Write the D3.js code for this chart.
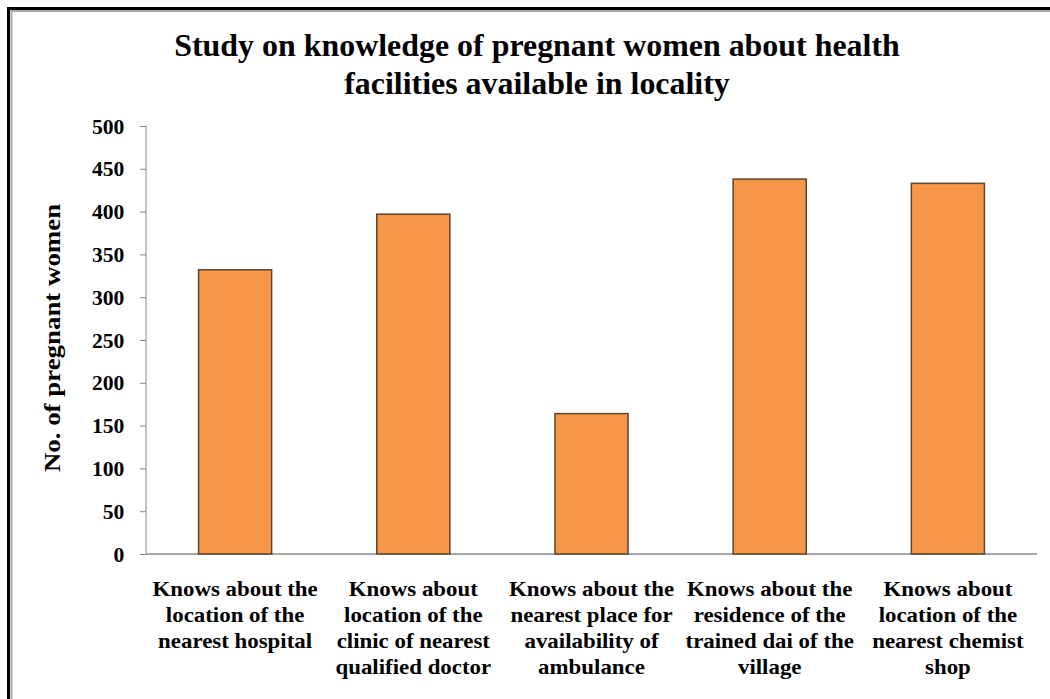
<!DOCTYPE html>
<html>
<head>
<meta charset="utf-8">
<script src="https://cdn.jsdelivr.net/npm/d3@7"></script>
<style>
  body { margin: 0; background: #fff; }
  svg text { font-family: "Liberation Serif", "Times New Roman", serif !important; font-weight: bold; fill: #000; }
</style>
</head>
<body>
<div id="chart"></div>
<script>
// chart data
var categories = ["hospital", "doctor", "ambulance", "dai", "chemist"];
var counts = [332, 397, 164, 438, 433];
var catLabels = [
    ["Knows about the", "location of the", "nearest hospital"],
    ["Knows about", "location of the", "clinic of nearest", "qualified doctor"],
    ["Knows about the", "nearest place for", "availability of", "ambulance"],
    ["Knows about the", "residence of the", "trained dai of the", "village"],
    ["Knows about", "location of the", "nearest chemist", "shop"]
];
var yTicks = [0, 50, 100, 150, 200, 250, 300, 350, 400, 450, 500];
var titleLines = ["Study on knowledge of pregnant women about health", "facilities available in locality"];
var yTitle = "No. of pregnant women";

var W = 1050, H = 699;
var margin = {top: 126, right: 13, bottom: 145, left: 146},
    width = W - margin.left - margin.right,
    height = H - margin.top - margin.bottom;

var svg = d3.select("#chart").append("svg")
    .attr("width", W)
    .attr("height", H);

// frame round the picture
svg.append("rect").attr("x", 8.5).attr("y", 8.5).attr("width", W + 10).attr("height", H + 10)
    .attr("fill", "none").attr("stroke", "#000").attr("stroke-width", 3);
svg.append("rect").attr("x", 11.5).attr("y", 11).attr("width", W + 10).attr("height", H + 10)
    .attr("fill", "none").attr("stroke", "#aaa").attr("stroke-width", 2);

var g = svg.append("g")
    .attr("transform", "translate(" + margin.left + "," + margin.top + ")");

var x = d3.scaleBand().domain(categories).range([0, width]).paddingInner(0.59).paddingOuter(0.295);
var y = d3.scaleLinear().domain([0, 500]).range([height, 0]);

// y axis
var yAxis = g.append("g")
    .attr("font-family", null)
    .call(d3.axisLeft(y).tickValues(yTicks).tickSize(6).tickPadding(14));
yAxis.selectAll("path, line").attr("stroke", "#888");
yAxis.selectAll("text")
    .style("font-size", "20px")
    .attr("dy", "0.35em")
    .attr("transform", "scale(1.08,1)");
yAxis.select(".domain").attr("d", "M0,0V" + height);

// x axis line
g.append("line")
    .attr("x1", 0).attr("x2", width)
    .attr("y1", height).attr("y2", height)
    .attr("stroke", "#888").attr("stroke-width", 1.5);

// bars
g.selectAll(".bar")
    .data(counts)
    .enter().append("rect")
    .attr("class", "bar")
    .attr("x", function (d, i) { return x(categories[i]); })
    .attr("y", function (d) { return y(d); })
    .attr("width", x.bandwidth())
    .attr("height", function (d) { return height - y(d); })
    .attr("fill", "#F79646")
    .attr("stroke", "#5c4431")
    .attr("stroke-width", 1.5);

// category labels
var lab = g.selectAll(".catlab")
    .data(catLabels)
    .enter().append("text")
    .attr("class", "catlab")
    .attr("text-anchor", "middle")
    .style("font-size", "22px")
    .attr("transform", function (d, i) {
        return "translate(" + (x(categories[i]) + x.bandwidth() / 2) + "," + (height + 42) + ") scale(1.04,1)";
    });
lab.selectAll("tspan")
    .data(function (d) { return d; })
    .enter().append("tspan")
    .attr("x", 0)
    .attr("y", function (d, i) { return i * 26; })
    .text(function (d) { return d; });

// title
svg.append("text")
    .attr("text-anchor", "middle")
    .style("font-size", "31px")
    .attr("transform", "translate(537,0) scale(1.03,1)")
    .selectAll("tspan")
    .data(titleLines)
    .enter().append("tspan")
    .attr("x", 0)
    .attr("y", function (d, i) { return 56 + i * 38; })
    .text(function (d) { return d; });

// y axis title
svg.append("text")
    .attr("text-anchor", "middle")
    .style("font-size", "24px")
    .attr("transform", "translate(60,338) rotate(-90) scale(1.12,1)")
    .text(yTitle);
</script>
</body>
</html>
